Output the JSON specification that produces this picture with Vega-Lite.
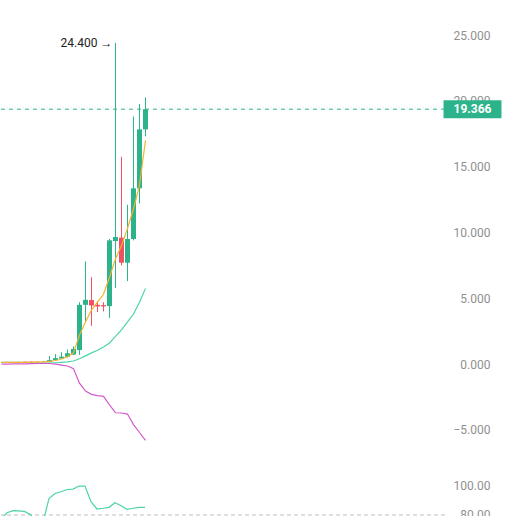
{
  "$schema": "https://vega.github.io/schema/vega-lite/v6.json",
  "padding": 0,
  "spacing": 0,
  "background": "white",
  "config": {
    "view": {"stroke": null},
    "font": "Roboto",
    "axis": {"labelFont": "Roboto", "labelFontSize": 12, "labelColor": "#8f8f8f", "domain": false, "ticks": false, "grid": false, "title": null, "labelOverlap": false}
  },
  "datasets": {
    "bars": [
      {"i": 0, "open": 0.10, "close": 0.12, "high": 0.14, "low": 0.09, "ma": 0.12, "up": 0.12, "dn": 0.0, "rsi": 77},
      {"i": 1, "open": 0.12, "close": 0.13, "high": 0.15, "low": 0.10, "ma": 0.12, "up": 0.12, "dn": 0.0, "rsi": 81.5},
      {"i": 2, "open": 0.13, "close": 0.12, "high": 0.15, "low": 0.11, "ma": 0.12, "up": 0.12, "dn": 0.01, "rsi": 82.9},
      {"i": 3, "open": 0.12, "close": 0.14, "high": 0.16, "low": 0.11, "ma": 0.13, "up": 0.12, "dn": 0.01, "rsi": 82.7},
      {"i": 4, "open": 0.18, "close": 0.15, "high": 0.20, "low": 0.14, "ma": 0.13, "up": 0.11, "dn": 0.02, "rsi": 82.2},
      {"i": 5, "open": 0.18, "close": 0.16, "high": 0.20, "low": 0.15, "ma": 0.14, "up": 0.10, "dn": 0.03, "rsi": 80},
      {"i": 6, "open": 0.17, "close": 0.15, "high": 0.19, "low": 0.14, "ma": 0.15, "up": 0.09, "dn": 0.04, "rsi": 74},
      {"i": 7, "open": 0.15, "close": 0.17, "high": 0.22, "low": 0.14, "ma": 0.16, "up": 0.08, "dn": 0.05, "rsi": 75},
      {"i": 8, "open": 0.15, "close": 0.30, "high": 0.60, "low": 0.13, "ma": 0.20, "up": 0.08, "dn": 0.04, "rsi": 91},
      {"i": 9, "open": 0.30, "close": 0.45, "high": 0.75, "low": 0.28, "ma": 0.27, "up": 0.10, "dn": 0.0, "rsi": 94.3},
      {"i": 10, "open": 0.42, "close": 0.56, "high": 0.90, "low": 0.40, "ma": 0.38, "up": 0.13, "dn": -0.08, "rsi": 95.5},
      {"i": 11, "open": 0.55, "close": 0.82, "high": 1.10, "low": 0.50, "ma": 0.55, "up": 0.17, "dn": -0.15, "rsi": 97},
      {"i": 12, "open": 0.72, "close": 1.15, "high": 1.35, "low": 0.68, "ma": 0.85, "up": 0.23, "dn": -0.35, "rsi": 97.3},
      {"i": 13, "open": 1.06, "close": 4.50, "high": 4.70, "low": 0.70, "ma": 2.2, "up": 0.40, "dn": -1.45, "rsi": 99.3},
      {"i": 14, "open": 4.50, "close": 4.88, "high": 7.80, "low": 3.25, "ma": 3.2, "up": 0.62, "dn": -2.05, "rsi": 99.3},
      {"i": 15, "open": 4.86, "close": 4.45, "high": 6.60, "low": 2.90, "ma": 4.1, "up": 0.85, "dn": -2.3, "rsi": 88.9},
      {"i": 16, "open": 4.50, "close": 4.38, "high": 4.75, "low": 3.95, "ma": 4.7, "up": 1.05, "dn": -2.4, "rsi": 84},
      {"i": 17, "open": 4.48, "close": 4.38, "high": 4.70, "low": 4.00, "ma": 5.3, "up": 1.30, "dn": -2.45, "rsi": 84.5},
      {"i": 18, "open": 4.40, "close": 9.40, "high": 9.50, "low": 3.50, "ma": 6.6, "up": 1.60, "dn": -3.1, "rsi": 85.1},
      {"i": 19, "open": 9.35, "close": 9.65, "high": 24.40, "low": 5.77, "ma": 8.0, "up": 2.10, "dn": -3.7, "rsi": 88.2},
      {"i": 20, "open": 9.60, "close": 7.70, "high": 15.75, "low": 7.50, "ma": 9.0, "up": 2.60, "dn": -3.72, "rsi": 86.2},
      {"i": 21, "open": 7.70, "close": 9.50, "high": 12.10, "low": 6.30, "ma": 10.3, "up": 3.20, "dn": -3.8, "rsi": 83.8},
      {"i": 22, "open": 9.50, "close": 13.35, "high": 18.80, "low": 9.40, "ma": 11.8, "up": 3.80, "dn": -4.6, "rsi": 84.5},
      {"i": 23, "open": 13.35, "close": 17.83, "high": 19.76, "low": 12.20, "ma": 13.6, "up": 4.70, "dn": -5.2, "rsi": 85.1},
      {"i": 24, "open": 17.83, "close": 19.366, "high": 20.26, "low": 17.30, "ma": 17.0, "up": 5.75, "dn": -5.8, "rsi": 85.1}
    ],
    "last": [{"price": 19.366}],
    "peak": [{"i": 19, "value": 24.4, "label": "24.400 →"}],
    "levels": [{"level": 80}]
  },
  "vconcat": [
    {
      "width": 444,
      "height": 460,
      "layer": [
        {
          "data": {"name": "bars"},
          "mark": {"type": "rule", "strokeWidth": 1, "clip": true},
          "encoding": {
            "x": {"field": "i", "type": "quantitative", "scale": {"domain": [-0.0833, 73.9167], "nice": false, "zero": false, "padding": 0}, "axis": null},
            "y": {"field": "low", "type": "quantitative", "scale": {"domain": [-7.29, 27.66], "nice": false, "zero": false, "padding": 0},
                  "axis": {"orient": "right", "values": [-5, 0, 5, 10, 15, 20, 25], "format": ".3f", "labelAlign": "right", "labelPadding": 45, "labelBaseline": "middle"}},
            "y2": {"field": "high"},
            "color": {"condition": {"test": "datum.close >= datum.open", "value": "#2db38b"}, "value": "#ef5062"}
          }
        },
        {
          "data": {"name": "bars"},
          "mark": {"type": "bar", "size": 5, "clip": true},
          "encoding": {
            "x": {"field": "i", "type": "quantitative"},
            "y": {"field": "open", "type": "quantitative"},
            "y2": {"field": "close"},
            "color": {"condition": {"test": "datum.close >= datum.open", "value": "#2db38b"}, "value": "#ef5062"}
          }
        },
        {
          "data": {"name": "bars"},
          "mark": {"type": "line", "color": "#4cd3a9", "strokeWidth": 1.2, "clip": true},
          "encoding": {"x": {"field": "i", "type": "quantitative"}, "y": {"field": "up", "type": "quantitative"}}
        },
        {
          "data": {"name": "bars"},
          "mark": {"type": "line", "color": "#d35bd0", "strokeWidth": 1.2, "clip": true},
          "encoding": {"x": {"field": "i", "type": "quantitative"}, "y": {"field": "dn", "type": "quantitative"}}
        },
        {
          "data": {"name": "bars"},
          "mark": {"type": "line", "color": "#f2b431", "strokeWidth": 1.2, "clip": true},
          "encoding": {"x": {"field": "i", "type": "quantitative"}, "y": {"field": "ma", "type": "quantitative"}}
        },
        {
          "data": {"name": "last"},
          "mark": {"type": "rule", "color": "#2db38b", "strokeWidth": 1, "strokeDash": [4, 4]},
          "encoding": {"y": {"field": "price", "type": "quantitative"}}
        },
        {
          "data": {"name": "last"},
          "mark": {"type": "rule", "color": "#2db38b", "strokeWidth": 18, "strokeCap": "butt"},
          "encoding": {
            "y": {"field": "price", "type": "quantitative"},
            "x": {"datum": 73.67, "type": "quantitative"},
            "x2": {"datum": 83.33}
          }
        },
        {
          "data": {"name": "last"},
          "mark": {"type": "text", "color": "white", "fontWeight": "bold", "fontSize": 12, "align": "center", "baseline": "middle", "font": "Roboto"},
          "encoding": {
            "y": {"field": "price", "type": "quantitative"},
            "x": {"datum": 78.5, "type": "quantitative"},
            "text": {"field": "price", "type": "quantitative", "format": ".3f"}
          }
        },
        {
          "data": {"name": "peak"},
          "mark": {"type": "text", "color": "#222222", "fontSize": 12, "align": "right", "baseline": "middle", "dx": -3, "font": "Roboto"},
          "encoding": {
            "x": {"field": "i", "type": "quantitative"},
            "y": {"field": "value", "type": "quantitative"},
            "text": {"field": "label"}
          }
        }
      ]
    },
    {
      "width": 444,
      "height": 56,
      "layer": [
        {
          "data": {"name": "levels"},
          "mark": {"type": "rule", "color": "#bdbdbd", "strokeWidth": 1, "strokeDash": [4, 3]},
          "encoding": {
            "y": {"field": "level", "type": "quantitative", "scale": {"domain": [79.33, 116.67], "nice": false, "zero": false},
                  "axis": {"orient": "right", "values": [80, 100], "format": ".2f", "labelAlign": "right", "labelPadding": 45, "labelBaseline": "middle"}}
          }
        },
        {
          "data": {"name": "bars"},
          "mark": {"type": "line", "color": "#4cd3a9", "strokeWidth": 1.2, "clip": true},
          "encoding": {
            "x": {"field": "i", "type": "quantitative", "scale": {"domain": [0, 74], "nice": false, "zero": false, "padding": 0}, "axis": null},
            "y": {"field": "rsi", "type": "quantitative"}
          }
        }
      ]
    }
  ]
}
